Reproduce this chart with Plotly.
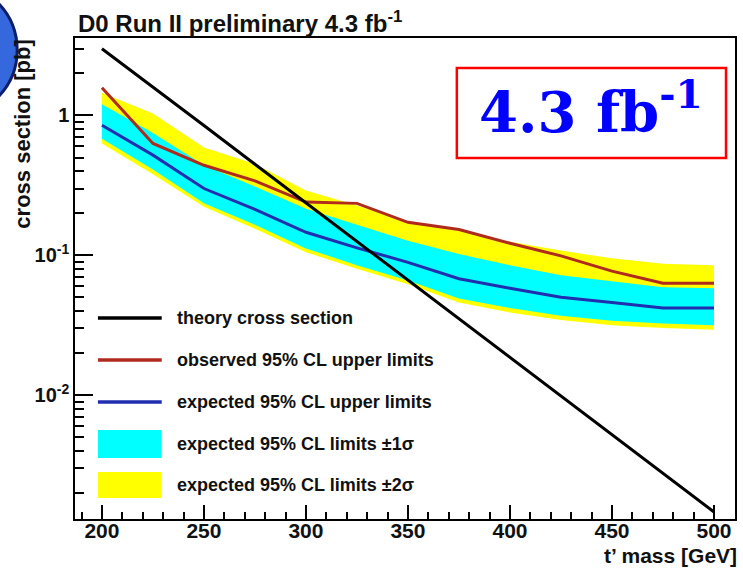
import plotly.graph_objects as go

# ---- data ----
mass = [200, 225, 250, 275, 300, 325, 350, 375, 400, 425, 450, 475, 500]
theory = [3.0, 1.6, 0.846, 0.448, 0.237, 0.125, 0.0664, 0.0351, 0.0186, 0.00984, 0.00521, 0.00276, 0.00146]
observed = [1.58, 0.63, 0.44, 0.34, 0.24, 0.235, 0.172, 0.153, 0.122, 0.099, 0.077, 0.063, 0.063]
expected = [0.85, 0.52, 0.30, 0.213, 0.146, 0.113, 0.089, 0.068, 0.058, 0.050, 0.046, 0.042, 0.042]
exp_1s_hi = [1.2, 0.75, 0.44, 0.31, 0.215, 0.165, 0.127, 0.102, 0.085, 0.072, 0.065, 0.059, 0.058]
exp_1s_lo = [0.68, 0.41, 0.235, 0.165, 0.112, 0.085, 0.066, 0.049, 0.042, 0.037, 0.034, 0.0325, 0.0316]
exp_2s_hi = [1.45, 1.03, 0.59, 0.45, 0.29, 0.227, 0.175, 0.15, 0.125, 0.108, 0.095, 0.087, 0.085]
exp_2s_lo = [0.63, 0.38, 0.222, 0.155, 0.105, 0.080, 0.062, 0.046, 0.039, 0.0345, 0.0316, 0.0302, 0.0293]

legend_labels = [
    "theory cross section",
    "observed 95% CL upper limits",
    "expected 95% CL upper limits",
    "expected 95% CL limits ±1σ",
    "expected 95% CL limits ±2σ",
]
x_tick_vals = [200, 250, 300, 350, 400, 450, 500]
y_tick_vals = [0.01, 0.1, 1]
y_tick_text = ["10<sup>-2</sup>", "10<sup>-1</sup>", "1"]

# ---- style ----
W, H = 743, 568
L, R, T, B = 75, 737, 38, 519
FONT = "Liberation Sans, Arial, sans-serif"
C_THEORY = "#000000"
C_OBS = "#b02a1e"
C_EXP = "#1f2fb0"
C_1S = "#00ffff"
C_2S = "#ffff00"


def px(x):
    return (x - L) / (R - L)


def py(y):
    return (B - y) / (B - T)


fig = go.Figure()
fig.add_trace(go.Scatter(x=mass, y=exp_2s_lo, mode="lines", line=dict(width=0), showlegend=False, hoverinfo="skip"))
fig.add_trace(go.Scatter(x=mass, y=exp_2s_hi, mode="lines", line=dict(width=0), fill="tonexty",
                         fillcolor=C_2S, showlegend=False))
fig.add_trace(go.Scatter(x=mass, y=exp_1s_lo, mode="lines", line=dict(width=0), showlegend=False, hoverinfo="skip"))
fig.add_trace(go.Scatter(x=mass, y=exp_1s_hi, mode="lines", line=dict(width=0), fill="tonexty",
                         fillcolor=C_1S, showlegend=False))
fig.add_trace(go.Scatter(x=mass, y=observed, mode="lines", line=dict(color=C_OBS, width=3), showlegend=False))
fig.add_trace(go.Scatter(x=mass, y=expected, mode="lines", line=dict(color=C_EXP, width=3), showlegend=False))
fig.add_trace(go.Scatter(x=mass, y=theory, mode="lines", line=dict(color=C_THEORY, width=3), showlegend=False))

minor_y = [m * 10 ** e for e in (-3, -2, -1, 0) for m in range(2, 10)]

fig.update_layout(
    width=W, height=H,
    margin=dict(l=L, r=W - R, t=T, b=H - B),
    paper_bgcolor="white", plot_bgcolor="white",
    showlegend=False,
    font=dict(family=FONT, color="#111111"),
    xaxis=dict(
        range=[186.8, 510.3], showgrid=False, zeroline=False,
        showline=True, linecolor="black", linewidth=1.5, mirror=True,
        tickmode="array", tickvals=x_tick_vals,
        ticks="inside", ticklen=14, tickwidth=1.5, tickcolor="black",
        ticklabelstandoff=-8,
        tickfont=dict(size=21, family=FONT, weight="bold", color="#111111"),
        minor=dict(dtick=10, tick0=200, ticks="inside", ticklen=7, tickwidth=1.5, tickcolor="black", showgrid=False),
    ),
    yaxis=dict(
        type="log", range=[-2.886, 0.5536], showgrid=False, zeroline=False,
        showline=True, linecolor="black", linewidth=1.5, mirror=True,
        tickmode="array", tickvals=y_tick_vals, ticktext=y_tick_text,
        ticks="inside", ticklen=18, tickwidth=1.5, tickcolor="black",
        tickfont=dict(size=20, family=FONT, weight="bold", color="#111111"),
        minor=dict(tickvals=minor_y, ticks="inside", ticklen=9, tickwidth=1.5, tickcolor="black", showgrid=False),
    ),
)

shapes = []
annotations = []

# logo fragment at top-left
shapes.append(dict(type="circle", xref="paper", yref="paper",
                   x0=px(-107), x1=px(17), y0=py(115), y1=py(-15),
                   fillcolor="#3468dc", line=dict(color="#0b1f6e", width=3), layer="above"))

# title
annotations.append(dict(xref="paper", yref="paper", x=px(76), y=py(22), xanchor="left", yanchor="middle",
                        text="D0 Run II preliminary 4.3 fb<sup>-1</sup>", showarrow=False,
                        font=dict(size=24, family=FONT, weight="bold", color="#111111")))
# axis titles
annotations.append(dict(xref="paper", yref="paper", x=px(741), y=py(555), xanchor="right", yanchor="middle",
                        text="t’ mass [GeV]", showarrow=False,
                        font=dict(size=21, family=FONT, weight="bold", color="#111111")))
annotations.append(dict(xref="paper", yref="paper", x=px(22), y=py(38), xanchor="center", yanchor="top",
                        text="cross section [pb]", textangle=-90, showarrow=False,
                        font=dict(size=22, family=FONT, weight="bold", color="#111111")))

# luminosity box
shapes.append(dict(type="rect", xref="paper", yref="paper", x0=px(458), x1=px(728), y0=py(158), y1=py(68),
                   line=dict(color="#ff0000", width=2.5), fillcolor="white", layer="above"))
annotations.append(dict(xref="paper", yref="paper", x=px(593), y=py(108), xanchor="center", yanchor="middle",
                        text="4.3 fb<sup>-1</sup>", showarrow=False,
                        font=dict(size=56, family="DejaVu Serif", weight="bold", color="#0000ff")))

# manual legend
leg_y = [318, 360, 402, 444, 485]
leg_line_colors = [C_THEORY, C_OBS, C_EXP]
for i in range(3):
    shapes.append(dict(type="line", xref="paper", yref="paper", x0=px(98), x1=px(162),
                       y0=py(leg_y[i]), y1=py(leg_y[i]), line=dict(color=leg_line_colors[i], width=3.5), layer="above"))
shapes.append(dict(type="rect", xref="paper", yref="paper", x0=px(98), x1=px(162), y0=py(458), y1=py(430),
                   fillcolor=C_1S, line=dict(width=0), layer="above"))
shapes.append(dict(type="rect", xref="paper", yref="paper", x0=px(98), x1=px(162), y0=py(498), y1=py(472),
                   fillcolor=C_2S, line=dict(width=0), layer="above"))
for lbl, yy in zip(legend_labels, leg_y):
    annotations.append(dict(xref="paper", yref="paper", x=px(175), y=py(yy), xanchor="left", yanchor="middle",
                            text=lbl, showarrow=False,
                            font=dict(size=18, family=FONT, weight="bold", color="#111111")))

fig.update_layout(shapes=shapes, annotations=annotations)
fig.write_html("out.html", config={"displayModeBar": False},
               post_script="document.body.style.margin='0';document.body.style.overflow='hidden';")
